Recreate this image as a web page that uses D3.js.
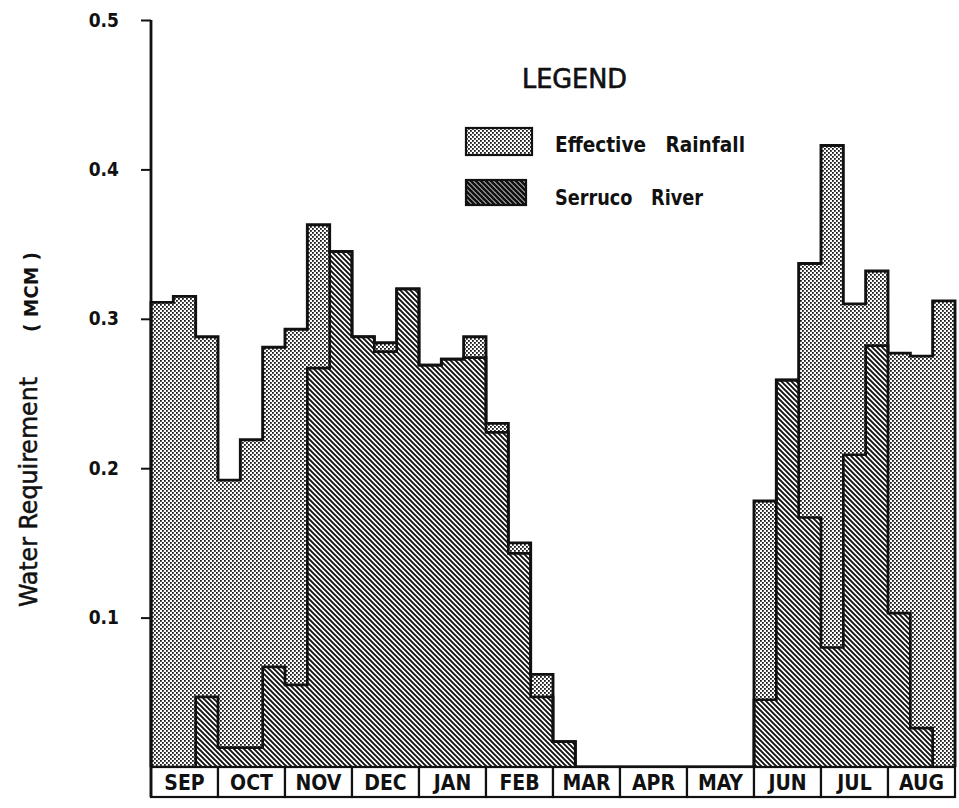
<!DOCTYPE html>
<html>
<head>
<meta charset="utf-8">
<script src="https://cdn.jsdelivr.net/npm/d3@7"></script>
<style>
  html, body { margin: 0; padding: 0; background: #fff; }
  svg { display: block; }
  text { font-family: "DejaVu Sans Condensed", "DejaVu Sans", sans-serif; fill: #111; }
</style>
</head>
<body>
<svg id="chart" width="959" height="808"></svg>
<script>
// ---- Data ----
const months = ["SEP","OCT","NOV","DEC","JAN","FEB","MAR","APR","MAY","JUN","JUL","AUG"];
const decadesPerMonth = 3;
// Serruco River contribution per 10-day period (MCM)
const riverValues = [
  0.000, 0.000, 0.047,   // SEP
  0.013, 0.013, 0.067,   // OCT
  0.055, 0.267, 0.345,   // NOV
  0.288, 0.278, 0.320,   // DEC
  0.269, 0.273, 0.274,   // JAN
  0.224, 0.143, 0.047,   // FEB
  0.017, 0.000, 0.000,   // MAR
  0.000, 0.000, 0.000,   // APR
  0.000, 0.000, 0.000,   // MAY
  0.045, 0.259, 0.167,   // JUN
  0.080, 0.209, 0.282,   // JUL
  0.103, 0.026, 0.000    // AUG
];
// Effective rainfall per 10-day period (MCM)
const rainValues = [
  0.311, 0.315, 0.241,   // SEP
  0.179, 0.206, 0.214,   // OCT
  0.238, 0.096, 0.000,   // NOV
  0.000, 0.006, 0.000,   // DEC
  0.000, 0.000, 0.014,   // JAN
  0.006, 0.007, 0.015,   // FEB
  0.000, 0.000, 0.000,   // MAR
  0.000, 0.000, 0.000,   // APR
  0.000, 0.000, 0.000,   // MAY
  0.133, 0.000, 0.170,   // JUN
  0.336, 0.101, 0.050,   // JUL
  0.174, 0.249, 0.312    // AUG
];
const yTicks = [0.1, 0.2, 0.3, 0.4, 0.5];
const yTickLabels = ["0.1", "0.2", "0.3", "0.4", "0.5"];
const legendItems = ["Effective   Rainfall", "Serruco   River"];
const yLabel = "Water  Requirement";
const yUnit = "( MCM )";

// ---- Layout ----
const svg = d3.select("#chart");
const plotLeft = 151, plotRight = 955, plotTop = 20, base = 767, boxH = 30;

const table = riverValues.map((r, i) => ({ i, river: r, rain: rainValues[i] }));
const series = d3.stack().keys(["river", "rain"])(table);

const x = d3.scaleBand().domain(d3.range(table.length)).range([plotLeft, plotRight]).paddingInner(0).paddingOuter(0);
const y = d3.scaleLinear().domain([0, 0.5]).range([base, plotTop]);

// ---- Patterns ----
const defs = svg.append("defs");
const dots = defs.append("pattern").attr("id", "stipple").attr("patternUnits", "userSpaceOnUse")
  .attr("width", 4).attr("height", 4);
dots.append("rect").attr("width", 4).attr("height", 4).attr("fill", "#fff");
dots.append("rect").attr("x", 0).attr("y", 0).attr("width", 1.8).attr("height", 1.8).attr("fill", "#1a1a1a");
dots.append("rect").attr("x", 2).attr("y", 2).attr("width", 1.8).attr("height", 1.8).attr("fill", "#1a1a1a");

function hatch(id, w) {
  const p = defs.append("pattern").attr("id", id).attr("patternUnits", "userSpaceOnUse")
    .attr("width", 5).attr("height", 5);
  p.append("rect").attr("width", 5).attr("height", 5).attr("fill", "#fff");
  p.append("path").attr("d", "M-1,-1 L6,6 M-1,4 L1,6 M4,-1 L6,1")
    .attr("stroke", "#111").attr("stroke-width", w);
}
hatch("hatch", 1.9);
hatch("hatchDark", 2.9);

// ---- Fills ----
const fills = { river: "url(#hatch)", rain: "url(#stipple)" };
series.forEach(s => {
  svg.append("g").selectAll("rect").data(s).join("rect")
    .attr("x", d => x(d.data.i))
    .attr("width", x.bandwidth())
    .attr("y", d => y(d[1]))
    .attr("height", d => y(d[0]) - y(d[1]))
    .attr("fill", fills[s.key])
    .attr("shape-rendering", "crispEdges");
});

// ---- Step outlines ----
function stepPath(vals) {
  let p = `M${x(0)},${y(0)}`;
  vals.forEach((v, i) => {
    p += `L${x(i)},${y(v)}L${x(i) + x.bandwidth()},${y(v)}`;
  });
  p += `L${x(vals.length - 1) + x.bandwidth()},${y(0)}`;
  return p;
}
const totals = series[1].map(d => d[1]);
const rivers = series[0].map(d => d[1]);
svg.append("path").attr("d", stepPath(rivers)).attr("fill", "none")
  .attr("stroke", "#111").attr("stroke-width", 2.7).attr("stroke-linejoin", "miter");
svg.append("path").attr("d", stepPath(totals)).attr("fill", "none")
  .attr("stroke", "#111").attr("stroke-width", 2.9).attr("stroke-linejoin", "miter");

// ---- Month boxes ----
const mg = svg.append("g");
months.forEach((m, k) => {
  const x0 = x(k * decadesPerMonth);
  const x1 = x(k * decadesPerMonth + decadesPerMonth - 1) + x.bandwidth();
  mg.append("rect").attr("x", x0).attr("y", base).attr("width", x1 - x0).attr("height", boxH)
    .attr("fill", "#fff").attr("stroke", "#111").attr("stroke-width", 2.2);
  mg.append("text").attr("x", (x0 + x1) / 2).attr("y", base + 23)
    .attr("text-anchor", "middle").attr("font-size", 21).attr("font-weight", "bold")
    .text(m);
});

// ---- Y axis ----
const axis = d3.axisLeft(y).tickValues(yTicks).tickSize(10).tickPadding(22)
  .tickFormat((d, i) => yTickLabels[i]);
const ag = svg.append("g").attr("transform", `translate(${plotLeft},0)`).call(axis);
ag.select(".domain").remove();
ag.selectAll(".tick line").attr("stroke", "#111").attr("stroke-width", 2);
ag.selectAll(".tick text").attr("font-size", 19).attr("font-weight", "bold")
  .attr("font-family", "'DejaVu Sans', sans-serif").attr("fill", "#111");
svg.append("line").attr("x1", plotLeft).attr("x2", plotLeft).attr("y1", plotTop).attr("y2", base + boxH)
  .attr("stroke", "#111").attr("stroke-width", 2.8);

// ---- Y label ----
svg.append("text").attr("transform", "translate(37,492) rotate(-90)")
  .attr("text-anchor", "middle").attr("font-size", 25)
  .attr("stroke", "#111").attr("stroke-width", 0.5)
  .attr("textLength", 230).attr("lengthAdjust", "spacingAndGlyphs").text(yLabel);
svg.append("text").attr("transform", "translate(38,292) rotate(-90)")
  .attr("text-anchor", "middle").attr("font-size", 20).attr("font-weight", "bold")
  .attr("textLength", 80).attr("lengthAdjust", "spacingAndGlyphs").text(yUnit);

// ---- Legend ----
svg.append("text").attr("x", 522).attr("y", 88).attr("font-size", 26)
  .attr("stroke", "#111").attr("stroke-width", 0.6)
  .attr("textLength", 105).attr("lengthAdjust", "spacingAndGlyphs").text("LEGEND");
const lg = svg.append("g");
const sw = [
  { y: 128, h: 27, w: 66, fill: "url(#stipple)", text: legendItems[0], tl: 190, ty: 152 },
  { y: 180, h: 25, w: 60, fill: "url(#hatchDark)", text: legendItems[1], tl: 148, ty: 205 }
];
sw.forEach(s => {
  lg.append("rect").attr("x", 466).attr("y", s.y).attr("width", s.w).attr("height", s.h)
    .attr("fill", s.fill).attr("stroke", "#111").attr("stroke-width", 2.2);
  lg.append("text").attr("x", 555).attr("y", s.ty).attr("font-size", 21).attr("font-weight", "bold")
    .attr("textLength", s.tl).attr("lengthAdjust", "spacingAndGlyphs")
    .style("white-space", "pre").text(s.text);
});
</script>
</body>
</html>
